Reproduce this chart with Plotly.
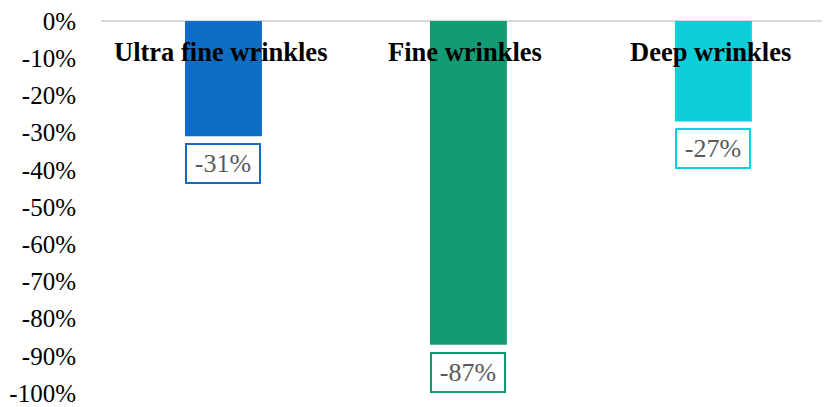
import plotly.graph_objects as go

categories = ["Ultra fine wrinkles", "Fine wrinkles", "Deep wrinkles"]
values = [-31, -87, -27]
colors = ["#0f6dc4", "#139c74", "#0dcfd9"]
tick_vals = [0, -10, -20, -30, -40, -50, -60, -70, -80, -90, -100]
tick_text = [f"{v}%" for v in tick_vals]

SERIF = "Liberation Serif, Times New Roman, serif"

fig = go.Figure()
fig.add_trace(go.Bar(
    x=categories, y=values, marker=dict(color=colors, line=dict(width=0)),
    width=0.314, hoverinfo="skip",
))

annotations = []
for c, v, col in zip(categories, values, colors):
    annotations.append(dict(
        x=c, y=-8.2, xref="x", yref="y", text=f"<b>{c}</b>", showarrow=False,
        font=dict(family=SERIF, size=26.5, color="#000000"), xshift=-3,
    ))
    annotations.append(dict(
        x=c, y=v, xref="x", yref="y", text=f"{v}%", showarrow=False,
        yanchor="top", yshift=-7, width=70, height=35, borderpad=1,
        bordercolor=col, borderwidth=2, bgcolor="#ffffff",
        font=dict(family=SERIF, size=26, color="#595959"),
    ))

fig.update_layout(
    width=822, height=399,
    margin=dict(l=93, r=0, t=11, b=11),
    paper_bgcolor="#ffffff", plot_bgcolor="#ffffff",
    showlegend=False,
    annotations=annotations,
    xaxis=dict(range=[-0.5, 2.476], showticklabels=False, showgrid=False,
               zeroline=False, showline=False, ticks=""),
    yaxis=dict(range=[-100, 0], tickvals=tick_vals, ticktext=tick_text,
               showgrid=False, zeroline=True, zerolinecolor="#d9d9d9",
               zerolinewidth=2, showline=False, ticks="",
               ticklabelstandoff=24, ticklabeloverflow="allow",
               tickfont=dict(family=SERIF, size=25, color="#000000")),
)

fig.write_html("out.html")
